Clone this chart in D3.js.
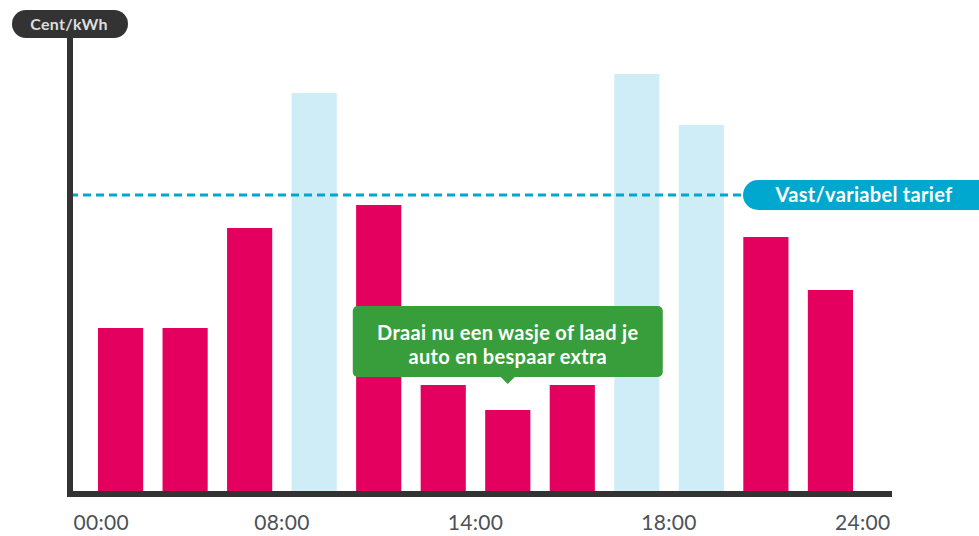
<!DOCTYPE html>
<html>
<head>
<meta charset="utf-8">
<script src="https://cdn.jsdelivr.net/npm/d3@7"></script>
<style>
  body { margin: 0; background: #fff; }
  svg { display: block; font-family: Lato, "Open Sans", sans-serif; }
</style>
</head>
<body>
<div id="app"></div>
<script>
// data
const slots = ["s1","s2","s3","s4","s5","s6","s7","s8","s9","s10","s11","s12"];
const prices = [16.3, 16.3, 26.3, 39.8, 28.6, 10.6, 8.1, 10.6, 41.7, 36.6, 25.4, 20.1];
const tariff = 29.6;
const tickLabels = ["00:00", "08:00", "14:00", "18:00", "24:00"];
const tickSlots = [-0.3, 2.5, 5.5, 8.5, 11.5];
const tipLines = ["Draai nu een wasje of laad je", "auto en bespaar extra"];

const width = 979,
    height = 536,
    baseY = 491;

const pink = "#e4005f",
    lightBlue = "#ceedf6",
    cyan = "#00a8cf",
    dark = "#333333",
    green = "#379e3b";

const svg = d3.select("#app").append("svg")
    .attr("width", width)
    .attr("height", height);

const x = d3.scaleBand()
    .domain(slots)
    .range([98, 853])
    .paddingInner(0.3)
    .paddingOuter(0);

// slot index -> x center, for the tick labels
const xSlot = d3.scaleLinear()
    .domain([0, 1])
    .range([x(slots[0]) + x.bandwidth() / 2, x(slots[1]) + x.bandwidth() / 2]);

const y = d3.scaleLinear()
    .domain([0, 45])
    .range([baseY, 41]);

// bars
svg.append("g")
    .selectAll("rect")
    .data(prices)
    .join("rect")
    .attr("x", (d, i) => x(slots[i]))
    .attr("y", d => y(d))
    .attr("width", x.bandwidth())
    .attr("height", d => baseY - y(d))
    .attr("fill", d => d > tariff ? lightBlue : pink);

// tariff line
svg.append("line")
    .attr("x1", 70)
    .attr("x2", 748)
    .attr("y1", y(tariff))
    .attr("y2", y(tariff))
    .attr("stroke", cyan)
    .attr("stroke-width", 3)
    .attr("stroke-dasharray", "8,5");

const tariffLabel = svg.append("g")
    .attr("transform", `translate(743,${y(tariff)})`);
tariffLabel.append("rect")
    .attr("x", 0)
    .attr("y", -15)
    .attr("width", 250)
    .attr("height", 30)
    .attr("rx", 15)
    .attr("fill", cyan);
tariffLabel.append("text")
    .attr("x", 121)
    .attr("dy", "0.36em")
    .attr("text-anchor", "middle")
    .attr("fill", "#fff")
    .attr("font-size", 20)
    .attr("font-weight", 700)
    .attr("letter-spacing", 0.3)
    .text("Vast/variabel tarief");

// axes
svg.append("line")
    .attr("x1", 70).attr("x2", 70)
    .attr("y1", 25).attr("y2", baseY + 6)
    .attr("stroke", dark)
    .attr("stroke-width", 6);
svg.append("line")
    .attr("x1", 67).attr("x2", 892)
    .attr("y1", baseY + 3).attr("y2", baseY + 3)
    .attr("stroke", dark)
    .attr("stroke-width", 6);

const unit = svg.append("g");
unit.append("rect")
    .attr("x", 12)
    .attr("y", 10)
    .attr("width", 116)
    .attr("height", 28)
    .attr("rx", 14)
    .attr("fill", dark);
unit.append("text")
    .attr("x", 69)
    .attr("y", 24)
    .attr("dy", "0.36em")
    .attr("text-anchor", "middle")
    .attr("fill", "#dedede")
    .attr("font-size", 16)
    .attr("font-weight", 700)
    .attr("letter-spacing", 0.3)
    .text("Cent/kWh");

// tick labels
svg.append("g")
    .selectAll("text")
    .data(tickLabels)
    .join("text")
    .attr("x", (d, i) => xSlot(tickSlots[i]))
    .attr("y", 530)
    .attr("text-anchor", "middle")
    .attr("fill", "#4c5158")
    .attr("font-size", 21)
    .attr("letter-spacing", 0.3)
    .text(d => d);

// tooltip over the cheapest hour
const cheapest = d3.minIndex(prices);
const tipX = x(slots[cheapest]) + x.bandwidth() / 2,
    tipBottom = y(prices[cheapest]) - 33;
const tip = svg.append("g")
    .attr("transform", `translate(${tipX},${tipBottom})`);
tip.append("rect")
    .attr("x", -155)
    .attr("y", -71)
    .attr("width", 310)
    .attr("height", 71)
    .attr("rx", 5)
    .attr("fill", green);
tip.append("path")
    .attr("d", "M-8,-1 L0,7 L8,-1 Z")
    .attr("fill", green);
tip.selectAll("text")
    .data(tipLines)
    .join("text")
    .attr("x", 0)
    .attr("y", (d, i) => -37 + i * 24)
    .attr("text-anchor", "middle")
    .attr("fill", "#fff")
    .attr("font-size", 20)
    .attr("font-weight", 700)
    .attr("letter-spacing", 0.3)
    .text(d => d);
</script>
</body>
</html>
